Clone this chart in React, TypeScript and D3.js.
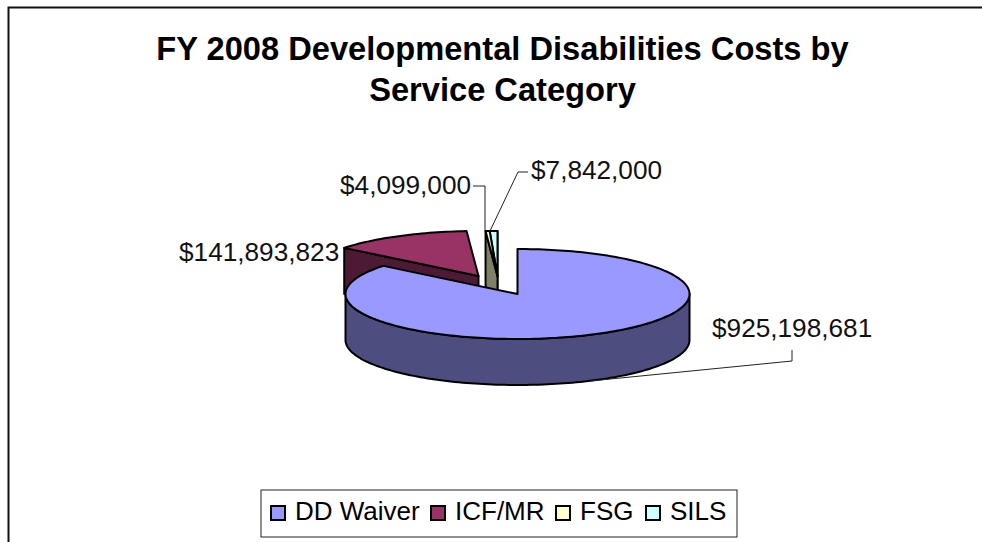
import React from "react";
import * as d3 from "d3";

const categories = ["DD Waiver", "ICF/MR", "FSG", "SILS"];
const costs = [925198681, 141893823, 4099000, 7842000];
const costLabels = ["$925,198,681", "$141,893,823", "$4,099,000", "$7,842,000"];
const topColors = ["#9999FF", "#993366", "#FFFFCC", "#CCFFFF"];
const wallColors = ["#4D4D80", "#4D1A33", "#808066", "#668080"];
const titleLines = ["FY 2008 Developmental Disabilities Costs by", "Service Category"];

const FONT = "'Liberation Sans', Arial, sans-serif";
const CX = 517.5;
const CY = 294;
const RX = 172;
const RY = 45;
const DEPTH = 46;
// Explosion offset of each slice from the pie's centre.
const OFFSETS: [number, number][] = [[0, 0], [-39, -18], [-20, -18], [-20, -18]];

type Pt = [number, number];

const slices = d3.pie<number>().sort(null)(costs);
const toPath = d3.line<Pt>();

function rim(i: number, a: number, drop = 0): Pt {
  const [ox, oy] = OFFSETS[i];
  return [CX + ox + RX * Math.sin(a), CY + oy - RY * Math.cos(a) + drop];
}

function arcPoints(i: number, a0: number, a1: number, drop = 0): Pt[] {
  const n = Math.max(2, Math.ceil(Math.abs(a1 - a0) * 40));
  return d3.range(n + 1).map((k) => rim(i, a0 + ((a1 - a0) * k) / n, drop));
}

function apex(i: number, drop = 0): Pt {
  return [CX + OFFSETS[i][0], CY + OFFSETS[i][1] + drop];
}

function topFace(i: number): string {
  const s = slices[i];
  return toPath([apex(i), ...arcPoints(i, s.startAngle, s.endAngle)])! + "Z";
}

// Flat wall running from the apex out to the slice edge at angle a.
function cutWall(i: number, a: number, depth = DEPTH): string {
  const outer = rim(i, a);
  const p = apex(i);
  return toPath([p, outer, [outer[0], outer[1] + depth], [p[0], p[1] + depth]])! + "Z";
}

// Curved outer wall between two angles.
function outerWall(i: number, a0: number, a1: number): string {
  const upper = arcPoints(i, a0, a1);
  const lower = arcPoints(i, a1, a0, DEPTH);
  return toPath([...upper, ...lower])! + "Z";
}

const legendX = [271, 431, 556, 646];
const stroke = { stroke: "#000", strokeWidth: 2, strokeLinejoin: "round" as const };
const leader = { fill: "none", stroke: "#222", strokeWidth: 1 };

export default function App() {
  return (
    <svg
      width={982}
      height={542}
      style={{ position: "absolute", left: 0, top: 0, background: "#fff" }}
      fontFamily={FONT}
    >
      <path d="M8.5 542V7.5H982" fill="none" stroke="#111" strokeWidth={2} />

      {titleLines.map((t, i) => (
        <text key={t} x={502.5} y={60 + i * 41} textAnchor="middle" fontSize={32.65} fontWeight={700} fill="#000">
          {t}
        </text>
      ))}

      {/* ICF/MR slice */}
      <path d={cutWall(1, slices[1].startAngle)} fill={wallColors[1]} {...stroke} />
      <path d={topFace(1)} fill={topColors[1]} {...stroke} />

      {/* FSG and SILS slivers */}
      <path d={cutWall(3, slices[3].endAngle)} fill={wallColors[3]} {...stroke} />
      <path d={cutWall(2, slices[2].startAngle, DEPTH + 8)} fill={wallColors[2]} {...stroke} />
      <path d={topFace(3)} fill={topColors[3]} {...stroke} />
      <path d={topFace(2)} fill={topColors[2]} {...stroke} />

      {/* DD Waiver slice */}
      <path d={outerWall(0, Math.PI / 2, (3 * Math.PI) / 2)} fill={wallColors[0]} {...stroke} />
      <path d={topFace(0)} fill={topColors[0]} {...stroke} />

      {/* Leader lines */}
      <path d="M473 186H485V231" {...leader} />
      <path d="M528 172H518L490 231" {...leader} />
      <path d="M792 350V361L590 381" {...leader} />

      {/* Value labels */}
      <g fontSize={26.2} fill="#111">
        <text x={712} y={337}>{costLabels[0]}</text>
        <text x={179} y={261}>{costLabels[1]}</text>
        <text x={340} y={194}>{costLabels[2]}</text>
        <text x={531} y={179}>{costLabels[3]}</text>
      </g>

      {/* Legend */}
      <rect x={261} y={490} width={476} height={47} fill="#fff" stroke="#222" strokeWidth={1} />
      {categories.map((c, i) => (
        <g key={c}>
          <rect x={legendX[i]} y={506} width={14} height={14} fill={topColors[i]} stroke="#000" strokeWidth={2} />
          <text x={legendX[i] + 24} y={520} fontSize={26} fill="#000">{c}</text>
        </g>
      ))}
    </svg>
  );
}
